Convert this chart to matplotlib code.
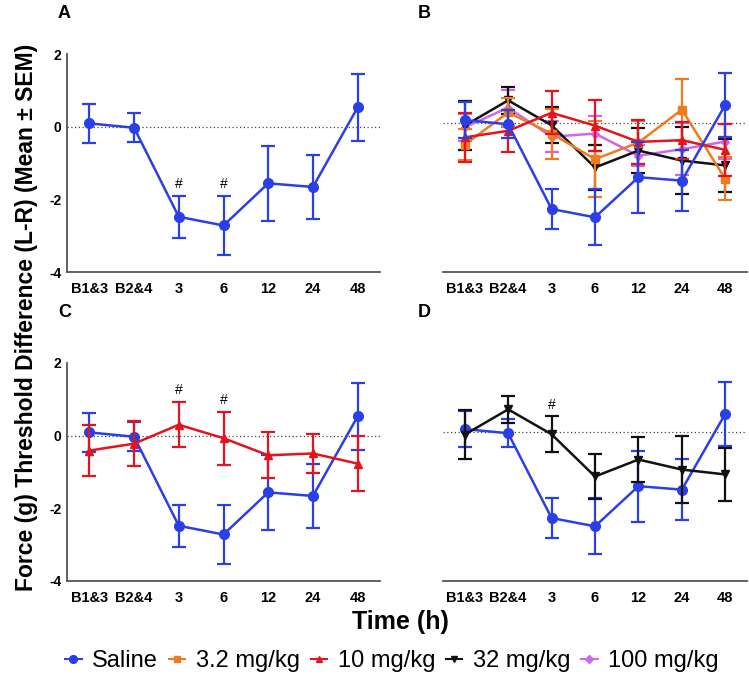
import matplotlib
matplotlib.use("Agg")
import matplotlib.pyplot as plt
from matplotlib.lines import Line2D
import numpy as np

plt.rcParams["font.family"] = ["Liberation Sans", "DejaVu Sans"]

timepoints = ["B1&3", "B2&4", "3", "6", "12", "24", "48"]

saline_mean = [0.09, -0.03, -2.48, -2.72, -1.56, -1.66, 0.53]
saline_sem = [0.53, 0.40, 0.58, 0.81, 1.03, 0.89, 0.93]

dose3_2_mean = [-0.62, 0.31, -0.30, -1.04, -0.56, 0.39, -1.61]
dose3_2_sem = [0.45, 0.42, 0.72, 1.10, 0.63, 0.89, 0.62]

dose10_mean = [-0.41, -0.22, 0.30, -0.07, -0.54, -0.49, -0.77]
dose10_sem = [0.70, 0.61, 0.62, 0.73, 0.63, 0.53, 0.76]

dose32_mean = [-0.07, 0.66, -0.06, -1.28, -0.79, -1.08, -1.22]
dose32_sem = [0.70, 0.40, 0.52, 0.65, 0.66, 0.98, 0.76]

dose100_mean = [-0.12, 0.45, -0.39, -0.30, -0.94, -0.75, -0.53]
dose100_sem = [0.40, 0.50, 0.45, 0.50, 0.30, 0.75, 0.50]

# significance marks (#) per panel: indices of timepoints
marks_a = [2, 3]
marks_c = [2, 3]
marks_d = [2]

series = {
    "Saline": (saline_mean, saline_sem, "#2b3fe6", "o", 7),
    "3.2 mg/kg": (dose3_2_mean, dose3_2_sem, "#f07a1e", "s", 6),
    "10 mg/kg": (dose10_mean, dose10_sem, "#e3141e", "^", 6),
    "32 mg/kg": (dose32_mean, dose32_sem, "#111111", "v", 6),
    "100 mg/kg": (dose100_mean, dose100_sem, "#d264f0", "D", 4.5),
}

W, H = 749, 677
fig = plt.figure(figsize=(W / 100, H / 100), dpi=100)


def px_axes(left, top, right, bottom):
    return fig.add_axes([left / W, 1 - bottom / H, (right - left) / W, (bottom - top) / H])


ax_a = px_axes(67, 54, 380, 272)
ax_b = px_axes(443, 54, 747, 272)
ax_c = px_axes(67, 363, 380, 581)
ax_d = px_axes(443, 363, 747, 581)

x = np.arange(len(timepoints))


def draw(ax, names, marks, mark_series, left_axis):
    ax.axhline(0, color="#444444", lw=0.9, ls=(0, (1, 2)), zorder=1)
    for z, name in enumerate(names):
        mean, sem, color, marker, ms = series[name]
        ax.errorbar(x, mean, yerr=sem, color=color, marker=marker, ms=ms,
                    lw=1.8, elinewidth=1.6, capsize=5, capthick=1.6,
                    zorder=3 + z)
    mean, sem = series[mark_series][0], series[mark_series][1]
    for i in marks:
        ax.text(x[i], mean[i] + sem[i] + 0.33, "#", ha="center", va="center",
                fontsize=10)
    ax.set_xlim(-0.5, 6.5)
    ax.set_xticks(x)
    ax.set_xticklabels(timepoints, fontweight="bold", fontsize=10.5)
    ax.tick_params(axis="x", length=0, pad=7)
    for s in ["top", "right"]:
        ax.spines[s].set_visible(False)
    ax.spines["bottom"].set_color("#555555")
    ax.spines["bottom"].set_linewidth(1.3)
    if left_axis:
        ax.set_ylim(-4, 2)
        ax.set_yticks([-4, -2, 0, 2])
        ax.set_yticklabels(["-4", "-2", "0", "2"], fontweight="bold", fontsize=10)
        ax.tick_params(axis="y", length=0, pad=4)
        ax.spines["left"].set_color("#555555")
        ax.spines["left"].set_linewidth(1.3)
    else:
        ax.set_ylim(-4.3, 2.0)
        ax.set_yticks([])
        ax.spines["left"].set_visible(False)


draw(ax_a, ["Saline"], marks_a, "Saline", True)
draw(ax_b, ["100 mg/kg", "32 mg/kg", "3.2 mg/kg", "10 mg/kg", "Saline"], [], "Saline", False)
draw(ax_c, ["Saline", "10 mg/kg"], marks_c, "10 mg/kg", True)
draw(ax_d, ["Saline", "32 mg/kg"], marks_d, "32 mg/kg", False)

for label, (px, py) in zip("ABCD", [(58, 13), (418, 13), (58, 313), (418, 313)]):
    fig.text(px / W, 1 - py / H, label, fontsize=13, fontweight="bold",
             ha="left", va="center")

fig.text(27 / W, 1 - 317 / H, "Force (g) Threshold Difference (L-R) (Mean \u00b1 SEM)",
         rotation=90, ha="center", va="center", fontsize=16.5, fontweight="bold")
fig.text(400 / W, 1 - 622 / H, "Time (h)", ha="center", va="center",
         fontsize=18, fontweight="bold")

handles = []
for name, (_, _, color, marker, ms) in series.items():
    handles.append(Line2D([], [], color=color, marker=marker, ms=ms * 0.8, lw=1.5))
fig.legend(handles, list(series.keys()), loc="center", ncol=5,
           bbox_to_anchor=(392 / W, 1 - 661 / H), frameon=False,
           fontsize=17, handlelength=0.7, handletextpad=0.45,
           columnspacing=0.45, borderpad=0)

fig.savefig("out.png", dpi=100)
